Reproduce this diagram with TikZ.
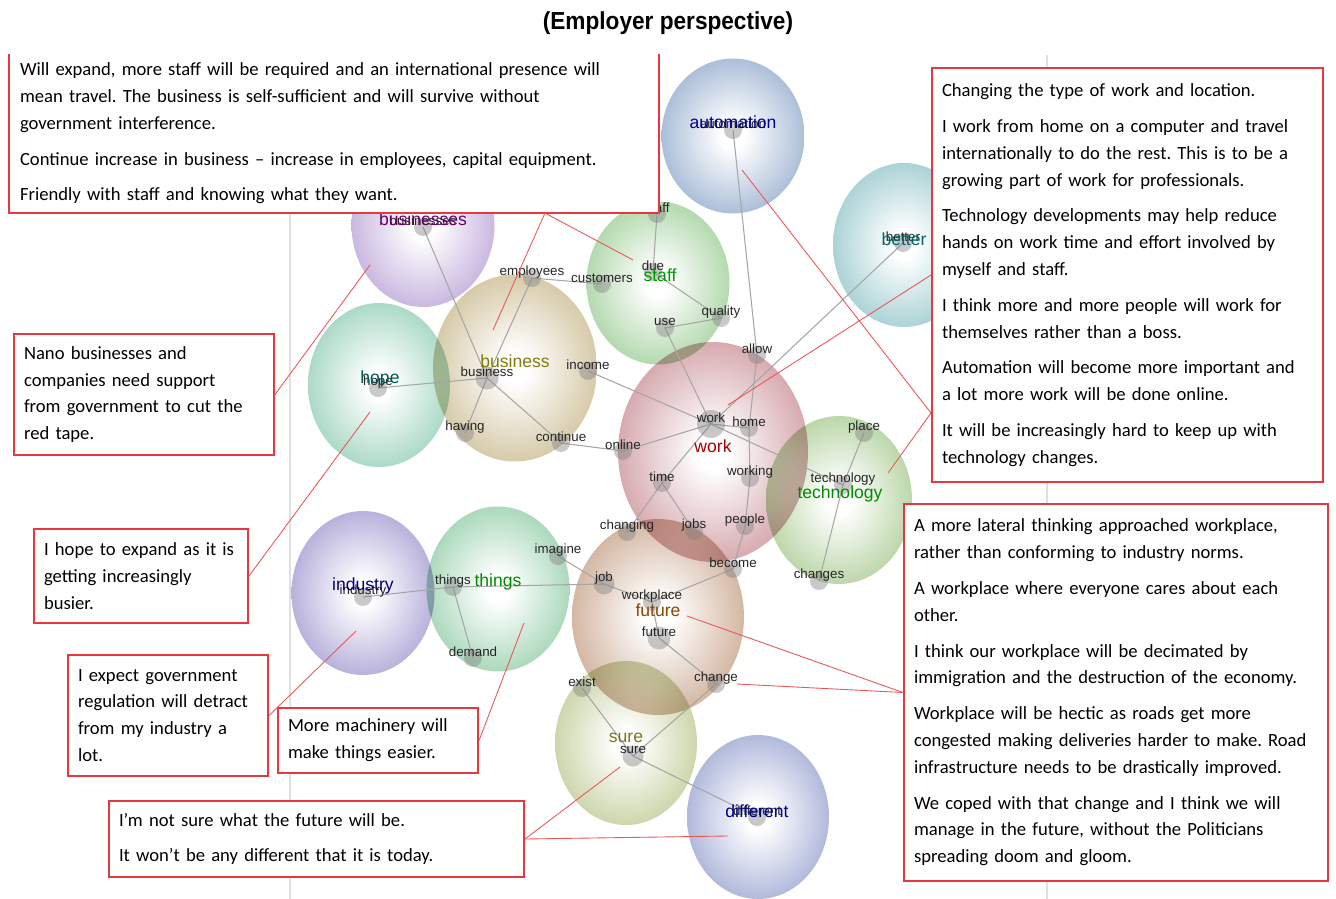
\documentclass[tikz,border=0pt]{standalone}
\usepackage{fontspec}
\setmainfont{Carlito}
\newfontfamily\graphfont{Liberation Sans}
\newfontfamily\titlefont[FakeStretch=0.92]{Liberation Sans}
\usetikzlibrary{shapes.geometric,positioning}

% white core fading out to the cluster colour at the rim
\pgfdeclareradialshading[bubcol]{bubble}{\pgfpointorigin}{color(0bp)=(white); color(4bp)=(white); color(26bp)=(bubcol!72!white); color(44bp)=(bubcol); color(50bp)=(bubcol!94!black)}

\pgfdeclarelayer{bubbles}
\pgfdeclarelayer{links}
\pgfsetlayers{bubbles,links,main}

\definecolor{callred}{HTML}{E8383D}
\definecolor{cAuto}{HTML}{86A2C6}
\definecolor{cBetter}{HTML}{86BFC4}
\definecolor{cBizs}{HTML}{B298D2}
\definecolor{cStaff}{HTML}{92C88A}
\definecolor{cHope}{HTML}{86C9AE}
\definecolor{cBusiness}{HTML}{C4B282}
\definecolor{cWork}{HTML}{C4848C}
\definecolor{cTech}{HTML}{9EC584}
\definecolor{cIndustry}{HTML}{998ECC}
\definecolor{cThings}{HTML}{86C89E}
\definecolor{cFuture}{HTML}{C0977A}
\definecolor{cSure}{HTML}{B6C486}
\definecolor{cDifferent}{HTML}{8E9ACC}

\tikzset{
  bubble/.style={ellipse, inner sep=0pt, /utils/exec={\colorlet{bubcol}{#1}}, shade, shading=bubble, blend mode=multiply},
  clab/.style={font=\graphfont\fontsize{10}{12}\selectfont, text=#1, inner sep=0pt},
  term/.style={circle, fill=black!50, fill opacity=0.42, inner sep=0pt, minimum size=0.36cm, label={[termtxt]center:#1}},
  termtxt/.style={font=\graphfont\fontsize{7.6}{9}\selectfont, text=black!85, text opacity=1, fill opacity=1, yshift=0.12cm, inner sep=0pt},
  link/.style={draw=black!35, line width=0.6pt},
  quote/.style={rectangle, draw=callred, line width=1.2pt, fill=white, align=left, inner xsep=0.2cm, inner ysep=0pt, font=\fontsize{10.6}{15.3}\selectfont},
  callout/.style={draw=callred!85, line width=0.5pt},
}

\begin{document}
\frenchspacing
\begin{tikzpicture}[x=0.02cm, y=-0.02cm]
\begin{pgfonlayer}{bubbles}
  \path[use as bounding box, fill=white] (0,0) rectangle (1336,899);
  \draw[black!12, line width=0.6pt] (290,212) -- (290,899) (1047,55) -- (1047,899);
  % clusters
  \node[bubble=cAuto, minimum width=2.86cm, minimum height=3.1cm] (bAuto) at (733,136) {};
  \node[bubble=cBetter, minimum width=2.84cm, minimum height=3.28cm] (bBetter) at (904,245) {};
  \node[bubble=cBizs, minimum width=2.86cm, minimum height=3.28cm] (bBizs) at (423,225) {};
  \node[bubble=cStaff, minimum width=2.86cm, minimum height=3.26cm] (bStaff) at (658,283) {};
  \node[bubble=cHope, minimum width=2.84cm, minimum height=3.28cm] (bHope) at (379,385) {};
  \node[bubble=cBusiness, minimum width=3.28cm, minimum height=3.74cm] (bBusiness) at (515,368) {};
  \node[bubble=cWork, minimum width=3.8cm, minimum height=4.4cm] (bWork) at (713,452) {};
  \node[bubble=cTech, minimum width=2.92cm, minimum height=3.36cm] (bTech) at (839,500) {};
  \node[bubble=cIndustry, minimum width=2.86cm, minimum height=3.28cm] (bIndustry) at (363,593) {};
  \node[bubble=cThings, minimum width=2.86cm, minimum height=3.3cm] (bThings) at (498,589) {};
  \node[bubble=cFuture, minimum width=3.44cm, minimum height=3.92cm] (bFuture) at (658,617) {};
  \node[bubble=cSure, minimum width=2.84cm, minimum height=3.28cm] (bSure) at (626,743) {};
  \node[bubble=cDifferent, minimum width=2.84cm, minimum height=3.28cm] (bDifferent) at (758,817) {};
\end{pgfonlayer}

% terms
\node[term=automation] (tAuto) at (733,130) {};
\node[term=better] (tBetter) at (903,243) {};
\node[term=businesses] (tBizs) at (423,227) {};
\node[term=staff] (tStaff) at (657,214) {};
\node[term=due] (tDue) at (653,272) {};
\node[term=customers] (tCustomers) at (602,284) {};
\node[term=employees] (tEmployees) at (532,278) {};
\node[term=quality] (tQuality) at (721,318) {};
\node[term=use] (tUse) at (665,328) {};
\node[term=allow] (tAllow) at (757,355) {};
\node[term=business, minimum size=0.46cm] (tBusiness) at (487,378) {};
\node[term=income] (tIncome) at (588,371) {};
\node[term=hope] (tHope) at (378,388) {};
\node[term=having] (tHaving) at (465,433) {};
\node[term=continue] (tContinue) at (561,443) {};
\node[term=online] (tOnline) at (623,451) {};
\node[term=work, minimum size=0.56cm] (tWork) at (711,424) {};
\node[term=home] (tHome) at (749,428) {};
\node[term=time] (tTime) at (662,483) {};
\node[term=working] (tWorking) at (750,478) {};
\node[term=technology] (tTech) at (843,485) {};
\node[term=place] (tPlace) at (864,433) {};
\node[term=changing] (tChanging) at (627,532) {};
\node[term=jobs] (tJobs) at (694,531) {};
\node[term=people] (tPeople) at (745,526) {};
\node[term=become] (tBecome) at (733,569) {};
\node[term=changes] (tChanges) at (819,581) {};
\node[term=imagine] (tImagine) at (558,556) {};
\node[term=job, minimum size=0.42cm] (tJob) at (604,584) {};
\node[term=things] (tThings) at (453,587) {};
\node[term=industry] (tIndustry) at (363,597) {};
\node[term=demand] (tDemand) at (473,658) {};
\node[term=workplace] (tWorkplace) at (652,602) {};
\node[term=future, minimum size=0.46cm] (tFuture) at (659,638) {};
\node[term=exist] (tExist) at (582,688) {};
\node[term=change] (tChange) at (716,684) {};
\node[term=sure, minimum size=0.42cm] (tSure) at (633,756) {};
\node[term=different] (tDifferent) at (757,817) {};

\begin{pgfonlayer}{links}
  \draw[link] (tAuto.center) -- (tAllow.center) -- (tHome.center) -- (tWorking.center)
              -- (tPeople.center) -- (tBecome.center) -- (tWorkplace.center);
  \draw[link] (tBetter.center) -- (tWork.center);
  \draw[link] (tBizs.center) -- (tBusiness.center);
  \draw[link] (tStaff.center) -- (tDue.center) -- (tQuality.center) -- (tUse.center) -- (tWork.center);
  \draw[link] (tCustomers.center) -- (tEmployees.center) -- (tBusiness.center);
  \draw[link] (tHope.center) -- (tBusiness.center) -- (tHaving.center);
  \draw[link] (tBusiness.center) -- (tContinue.center) -- (tOnline.center) -- (tWork.center);
  \draw[link] (tIncome.center) -- (tWork.center) -- (tHome.center);
  \draw[link] (tWork.center) -- (tTech.center);
  \draw[link] (tWork.center) -- (tTime.center) -- (tChanging.center);
  \draw[link] (tTime.center) -- (tJobs.center);
  \draw[link] (tPlace.center) -- (tTech.center) -- (tChanges.center);
  \draw[link] (tImagine.center) -- (tJob.center) -- (tWorkplace.center) -- (tFuture.center) -- (tChange.center) -- (tSure.center);
  \draw[link] (tIndustry.center) -- (tThings.center) -- (tJob.center);
  \draw[link] (tThings.center) -- (tDemand.center);
  \draw[link] (tExist.center) -- (tSure.center) -- (tDifferent.center);
\end{pgfonlayer}

% cluster names
\node[clab=blue!55!black] (lAuto) at (733,122) {automation};
\node[clab=teal!80!black] (lBetter) at (904,239) {better};
\node[clab=violet!80!black] (lBizs) at (423,219) {businesses};
\node[clab=green!60!black] (lStaff) at (660,275) {staff};
\node[clab=teal!70!black] (lHope) at (380,379) {hope};
\node[clab=olive!90!black] (lBusiness) at (515,361) {business};
\node[clab=red!65!black] (lWork) at (713,446) {work};
\node[clab=green!55!black] (lTech) at (840,494) {technology};
\node[clab=blue!50!black] (lIndustry) at (363,586) {industry};
\node[clab=green!55!black] (lThings) at (498,582) {things};
\node[clab=orange!55!black] (lFuture) at (658,610) {future};
\node[clab=olive!85!black] (lSure) at (626,738) {sure};
\node[clab=blue!55!black] (lDifferent) at (757,811) {different};

\node[font=\titlefont\bfseries\fontsize{14}{16}\selectfont] (title) at (668,23) {(Employer perspective)};

% comment boxes
\node[quote, draw=none, minimum width=12.96cm, minimum height=3.14cm, text width=12.56cm] (qTop) at (334,133.5) {%
Will expand, more staff will be required and an international presence will\\
mean travel. The business is self-sufficient and will survive without\\
government interference.\\[5pt]
Continue increase in business -- increase in employees, capital equipment.\\[5pt]
Friendly with staff and knowing what they want.};
\draw[callred, line width=1.2pt] (qTop.north west) -- (qTop.south west) -- (qTop.south east) -- (qTop.north east);

\node[quote, minimum width=7.82cm, minimum height=8.28cm, text width=7.42cm] (qRight) at (1127.5,275) {%
Changing the type of work and location.\\[5pt]
I work from home on a computer and travel\\
internationally to do the rest. This is to be a\\
growing part of work for professionals.\\[5pt]
Technology developments may help reduce\\
hands on work time and effort involved by\\
myself and staff.\\[5pt]
I think more and more people will work for\\
themselves rather than a boss.\\[5pt]
Automation will become more important and\\
a lot more work will be done online.\\[5pt]
It will be increasingly hard to keep up with\\
technology changes.};

\node[quote, minimum width=8.48cm, minimum height=7.54cm, text width=8.08cm] (qLow) at (1116,692.5) {%
A more lateral thinking approached workplace,\\
rather than conforming to industry norms.\\[5pt]
A workplace where everyone cares about each\\
other.\\[5pt]
I think our workplace will be decimated by\\
immigration and the destruction of the economy.\\[5pt]
Workplace will be hectic as roads get more\\
congested making deliveries harder to make. Road\\
infrastructure needs to be drastically improved.\\[5pt]
We coped with that change and I think we will\\
manage in the future, without the Politicians\\
spreading doom and gloom.};

\node[quote, minimum width=5.2cm, minimum height=2.42cm, text width=4.8cm] (qNano) at (144,394.5) {%
Nano businesses and\\ companies need support\\ from government to cut the\\ red tape.};
\node[quote, minimum width=4.28cm, minimum height=1.88cm, text width=3.88cm] (qHope) at (141,576) {%
I hope to expand as it is\\ getting increasingly\\ busier.};
\node[quote, minimum width=4cm, minimum height=2.42cm, text width=3.6cm] (qExpect) at (168,715.5) {%
I expect government\\ regulation will detract\\ from my industry a\\ lot.};
\node[quote, minimum width=4cm, minimum height=1.3cm, text width=3.6cm] (qMachine) at (378,740.5) {%
More machinery will\\ make things easier.};
\node[quote, minimum width=8.3cm, minimum height=1.52cm, text width=7.9cm] (qSure) at (316.5,839) {%
I’m not sure what the future will be.\\[5pt]
It won’t be any different that it is today.};

% call-out ends inside the clusters
\coordinate (pBusiness) at (493,330);
\coordinate (pStaff) at (633,260);
\coordinate (pBizs) at (370,265);
\coordinate (pHope) at (370,412);
\coordinate (pIndustry) at (356,631);
\coordinate (pThings) at (524,623);
\coordinate (pSure) at (620,767);
\coordinate (pDifferent) at (728,836);
\coordinate (pWork) at (728,405);
\coordinate (pAuto) at (742,170);
\coordinate (pTech) at (888,473);
\coordinate (pFuture) at (687,616);
\coordinate (pChange) at (737,684);

\draw[callout] ([xshift=4.22cm]qTop.south) -- (pBusiness);
\draw[callout] ([xshift=4.22cm]qTop.south) -- (pStaff);
\draw[callout] (qNano.east) -- (pBizs);
\draw[callout] (qHope.east) -- (pHope);
\draw[callout] (qExpect.east) -- (pIndustry);
\draw[callout] (qMachine.east) -- (pThings);
\draw[callout] (qSure.east) -- (pSure);
\draw[callout] (qSure.east) -- (pDifferent);
\draw[callout] (qRight.west) -- (pWork);
\draw[callout] ([yshift=-2.76cm]qRight.west) -- (pAuto);
\draw[callout] ([yshift=-2.76cm]qRight.west) -- (pTech);
\draw[callout] (qLow.west) -- (pFuture);
\draw[callout] (qLow.west) -- (pChange);
\end{tikzpicture}
\end{document}
